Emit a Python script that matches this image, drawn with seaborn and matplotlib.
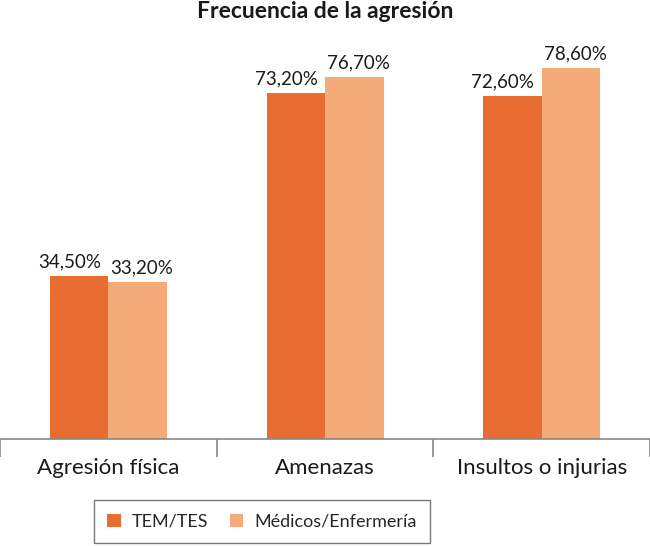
import matplotlib
matplotlib.use("Agg")
import matplotlib.pyplot as plt
import seaborn as sns
import pandas as pd

categories = ["Agresión física", "Amenazas", "Insultos o injurias"]
tem_tes = [34.5, 73.2, 72.6]
medicos = [33.2, 76.7, 78.6]
series_names = ["TEM/TES", "Médicos/Enfermería"]
colors = ["#E96C30", "#F5AA7A"]

df = pd.DataFrame({
    "categoria": categories * 2,
    "grupo": [series_names[0]] * 3 + [series_names[1]] * 3,
    "valor": tem_tes + medicos,
})

sns.set_style("white")
plt.rcParams["font.family"] = ["Lato", "DejaVu Sans"]

fig = plt.figure(figsize=(6.5, 5.46), dpi=100)
ax = fig.add_axes([0.0, 0.196, 1.0, 0.75])

sns.barplot(data=df, x="categoria", y="valor", hue="grupo", palette=colors,
            width=0.54, saturation=1, linewidth=0, ax=ax, legend=True)

# value labels, comma decimals; left bar labels nudged left, right ones right
x_shift = [-7, 3]
for i, cont in enumerate(ax.containers):
    for b in cont:
        txt = f"{b.get_height():.2f}%".replace(".", ",")
        ax.annotate(txt, (b.get_x() + b.get_width() / 2, b.get_height()),
                    xytext=(x_shift[i], 4), textcoords="offset points",
                    ha="center", va="bottom", fontsize=13.5, color="#1a1a1a")

ax.set_xlim(-0.5, 2.5)
ax.set_ylim(0, 86.7)
ax.set_xlabel("")
ax.set_ylabel("")
ax.set_yticks([])
for s in ["top", "left", "right"]:
    ax.spines[s].set_visible(False)
ax.spines["bottom"].set_color("#888888")
ax.spines["bottom"].set_linewidth(1.2)
ax.set_xticks([-0.5, 0.5, 1.5, 2.5], minor=True)
ax.tick_params(axis="x", which="minor", length=13, width=1.2, color="#888888", bottom=True)
ax.tick_params(axis="x", which="major", length=0, labelsize=16, pad=14, labelcolor="#1a1a1a")

fig.suptitle("Frecuencia de la agresión", x=0.5, y=0.998, fontsize=16.5, fontweight="bold",
             color="#1a1a1a")

handles, labs = ax.get_legend_handles_labels()
ax.get_legend().remove()
leg = fig.legend(handles, labs, loc="center", bbox_to_anchor=(0.403, 0.045), ncol=2,
                 frameon=True, fancybox=False, fontsize=13, handlelength=0.75,
                 handleheight=0.75, handletextpad=0.6, columnspacing=1.2,
                 borderpad=0.75)
leg.get_frame().set_edgecolor("#555555")
leg.get_frame().set_linewidth(1.0)

fig.savefig("out.png", dpi=100, facecolor="white")
